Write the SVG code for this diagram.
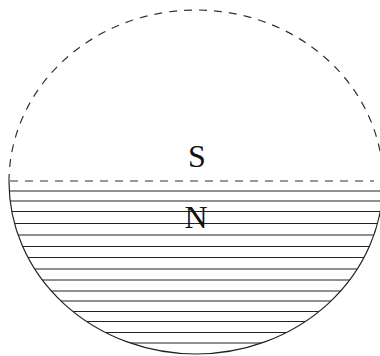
<svg xmlns="http://www.w3.org/2000/svg" width="380" height="356" viewBox="0 0 380 356">
  <style>
    .dash { fill: none; stroke: #333; stroke-width: 1.2; stroke-dasharray: 8 7; }
    .solid { fill: none; stroke: #222; stroke-width: 1.2; }
    .hatch { stroke: #222; stroke-width: 1.1; }
    .lbl { font-family: "Liberation Serif", "Times New Roman", serif; font-size: 32px; fill: #111; text-anchor: middle; }
  </style>
  <defs>
    <clipPath id="lowerClip">
      <ellipse cx="196" cy="182" rx="187" ry="172"/>
    </clipPath>
  </defs>
  <rect width="380" height="356" fill="#fff"/>
  <g id="upper-arc">
    <path class="dash" d="M 9 182 A 187 172 0 0 1 383 182"/>
  </g>
  <g id="divider">
    <line class="dash" x1="10" y1="181" x2="374" y2="181"/>
  </g>
  <g id="lower-half">
    <g clip-path="url(#lowerClip)">
      <line class="hatch" x1="0" y1="191" x2="380" y2="191"/>
      <line class="hatch" x1="0" y1="201" x2="380" y2="201"/>
      <line class="hatch" x1="0" y1="211.5" x2="380" y2="211.5"/>
      <line class="hatch" x1="0" y1="223.5" x2="380" y2="223.5"/>
      <line class="hatch" x1="0" y1="235" x2="380" y2="235"/>
      <line class="hatch" x1="0" y1="246.5" x2="380" y2="246.5"/>
      <line class="hatch" x1="0" y1="257.5" x2="380" y2="257.5"/>
      <line class="hatch" x1="0" y1="269" x2="380" y2="269"/>
      <line class="hatch" x1="0" y1="280" x2="380" y2="280"/>
      <line class="hatch" x1="0" y1="291" x2="380" y2="291"/>
      <line class="hatch" x1="0" y1="301" x2="380" y2="301"/>
      <line class="hatch" x1="0" y1="311.5" x2="380" y2="311.5"/>
      <line class="hatch" x1="0" y1="321.5" x2="380" y2="321.5"/>
      <line class="hatch" x1="0" y1="332.5" x2="380" y2="332.5"/>
      <line class="hatch" x1="0" y1="343" x2="380" y2="343"/>
    </g>
    <path class="solid" d="M 9 182 A 187 172 0 0 0 383 182"/>
  </g>
  <g id="label-S">
    <text class="lbl" x="197" y="167">S</text>
  </g>
  <g id="label-N">
    <text class="lbl" x="196" y="228">N</text>
  </g>
</svg>
